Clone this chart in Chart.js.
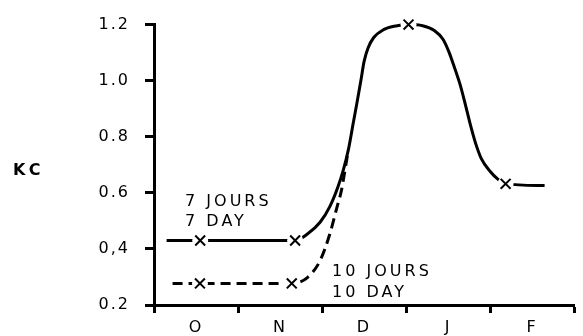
<!DOCTYPE html>
<html>
<head>
<meta charset="utf-8">
<script src="https://cdn.jsdelivr.net/npm/chart.js@4.4.0/dist/chart.umd.min.js"></script>
<style>
    html, body { margin: 0; padding: 0; background: #fff; }
</style>
</head>
<body>
<canvas id="myChart" width="583" height="336"></canvas>
<script>
// months along the bottom, one unit per month on the x scale
var months = ['O', 'N', 'D', 'J', 'F'];
var yTickValues = [0.2, 0.4, 0.6, 0.8, 1.0, 1.2];
var yTickLabels = ['0.2', '0,4', '0.6', '0.8', '1.0', '1.2'];

// 7 day curve (solid)
var day7X = [0.15, 0.55, 1.68, 1.826, 1.977, 2.093, 2.186, 2.256, 2.314, 2.372, 2.419, 2.465, 2.5, 2.547, 2.616, 2.733, 2.895, 3.03, 3.198, 3.337, 3.442, 3.512, 3.57, 3.651, 3.709, 3.767, 3.826, 3.895, 4.0, 4.093, 4.186, 4.65];
var day7Y = [0.43, 0.43, 0.43, 0.453, 0.495, 0.551, 0.618, 0.684, 0.754, 0.849, 0.926, 1.004, 1.067, 1.116, 1.154, 1.182, 1.196, 1.2, 1.196, 1.179, 1.147, 1.102, 1.053, 0.979, 0.912, 0.842, 0.779, 0.723, 0.677, 0.649, 0.632, 0.626];
var day7MarkX = [0.55, 1.68, 3.03, 4.186];
var day7MarkY = [0.43, 0.43, 1.2, 0.632];

// 10 day curve (dashed)
var day10X = [0.221, 0.547, 1.64, 1.826, 1.977, 2.093, 2.174, 2.233, 2.279, 2.314];
var day10Y = [0.277, 0.277, 0.277, 0.298, 0.358, 0.453, 0.544, 0.611, 0.691, 0.754];
var day10MarkX = [0.547, 1.64];
var day10MarkY = [0.277, 0.277];

function pts(xs, ys) {
    var out = [];
    for (var i = 0; i < xs.length; i++) {
        out.push({x: xs[i], y: ys[i]});
    }
    return out;
}

var notes = [
    {text: '7 JOURS', x: 0.37, y: 0.568},
    {text: '7 DAY', x: 0.37, y: 0.498},
    {text: '10 JOURS', x: 2.12, y: 0.319},
    {text: '10 DAY', x: 2.12, y: 0.242}
];

var extras = {
    id: 'extras',
    beforeDraw: function (chart) {
        chart.ctx.letterSpacing = '2px';
    },
    afterDraw: function (chart) {
        var ctx = chart.ctx;
        var xs = chart.scales.x, ys = chart.scales.y;
        ctx.save();
        ctx.fillStyle = '#000';
        ctx.textBaseline = 'middle';
        ctx.textAlign = 'left';
        ctx.font = '16px "DejaVu Sans"';
        ctx.letterSpacing = '3px';
        notes.forEach(function (n) {
            ctx.fillText(n.text, xs.getPixelForValue(n.x), ys.getPixelForValue(n.y));
        });
        ctx.font = 'bold 16px "DejaVu Sans"';
        ctx.letterSpacing = '4px';
        ctx.fillText('KC', 13, ys.getPixelForValue(0.68));
        ctx.restore();
    }
};

var tickFont = {family: 'DejaVu Sans', size: 16};

var ctx = document.getElementById('myChart').getContext('2d');
var myChart = new Chart(ctx, {
    type: 'scatter',
    data: {
        datasets: [{
            data: pts(day7MarkX, day7MarkY),
            pointStyle: 'crossRot',
            pointRadius: 7,
            borderColor: '#000',
            borderWidth: 2,
            clip: false
        }, {
            data: pts(day10MarkX, day10MarkY),
            pointStyle: 'crossRot',
            pointRadius: 7,
            borderColor: '#000',
            borderWidth: 2,
            clip: false
        }, {
            data: pts(day7MarkX, day7MarkY),
            pointStyle: 'circle',
            pointRadius: 8,
            backgroundColor: '#fff',
            borderWidth: 0,
            clip: false
        }, {
            data: pts(day10MarkX, day10MarkY),
            pointStyle: 'circle',
            pointRadius: 8,
            backgroundColor: '#fff',
            borderWidth: 0,
            clip: false
        }, {
            label: '7 DAY',
            data: pts(day7X, day7Y),
            showLine: true,
            pointRadius: 0,
            borderColor: '#000',
            borderWidth: 3,
            cubicInterpolationMode: 'monotone',
            clip: false
        }, {
            label: '10 DAY',
            data: pts(day10X, day10Y),
            showLine: true,
            pointRadius: 0,
            borderColor: '#000',
            borderWidth: 3,
            borderDash: [10, 6],
            cubicInterpolationMode: 'monotone',
            clip: false
        }]
    },
    options: {
        responsive: false,
        animation: false,
        layout: {padding: {top: 20, right: 0, bottom: 0, left: 0}},
        plugins: {legend: {display: false}, tooltip: {enabled: false}},
        scales: {
            x: {
                type: 'linear',
                min: 0,
                max: 5,
                border: {color: '#000', width: 3},
                grid: {
                    drawOnChartArea: false,
                    tickLength: 8,
                    tickWidth: 3,
                    tickColor: function (c) {
                        return (c.tick && c.tick.value % 1 === 0) ? '#000' : 'rgba(0,0,0,0)';
                    }
                },
                afterBuildTicks: function (s) {
                    var t = [];
                    for (var i = 0; i <= 10; i++) t.push({value: i / 2});
                    s.ticks = t;
                },
                ticks: {
                    color: '#000',
                    font: tickFont,
                    padding: 5,
                    maxRotation: 0,
                    autoSkip: false,
                    callback: function (v) {
                        var i = v - 0.5;
                        return (i % 1 === 0 && months[i]) ? months[i] : '';
                    }
                },
                afterFit: function (s) { s.height = 31; }
            },
            y: {
                min: 0.2,
                max: 1.2,
                border: {color: '#000', width: 3},
                grid: {drawOnChartArea: false, tickLength: 9, tickWidth: 3, tickColor: '#000'},
                afterBuildTicks: function (s) {
                    s.ticks = yTickValues.map(function (v) { return {value: v}; });
                },
                ticks: {
                    color: '#000',
                    font: tickFont,
                    padding: 15,
                    callback: function (v, i) { return yTickLabels[i]; }
                },
                afterFit: function (s) { s.width = 154; }
            }
        }
    },
    plugins: [extras]
});
</script>
</body>
</html>
